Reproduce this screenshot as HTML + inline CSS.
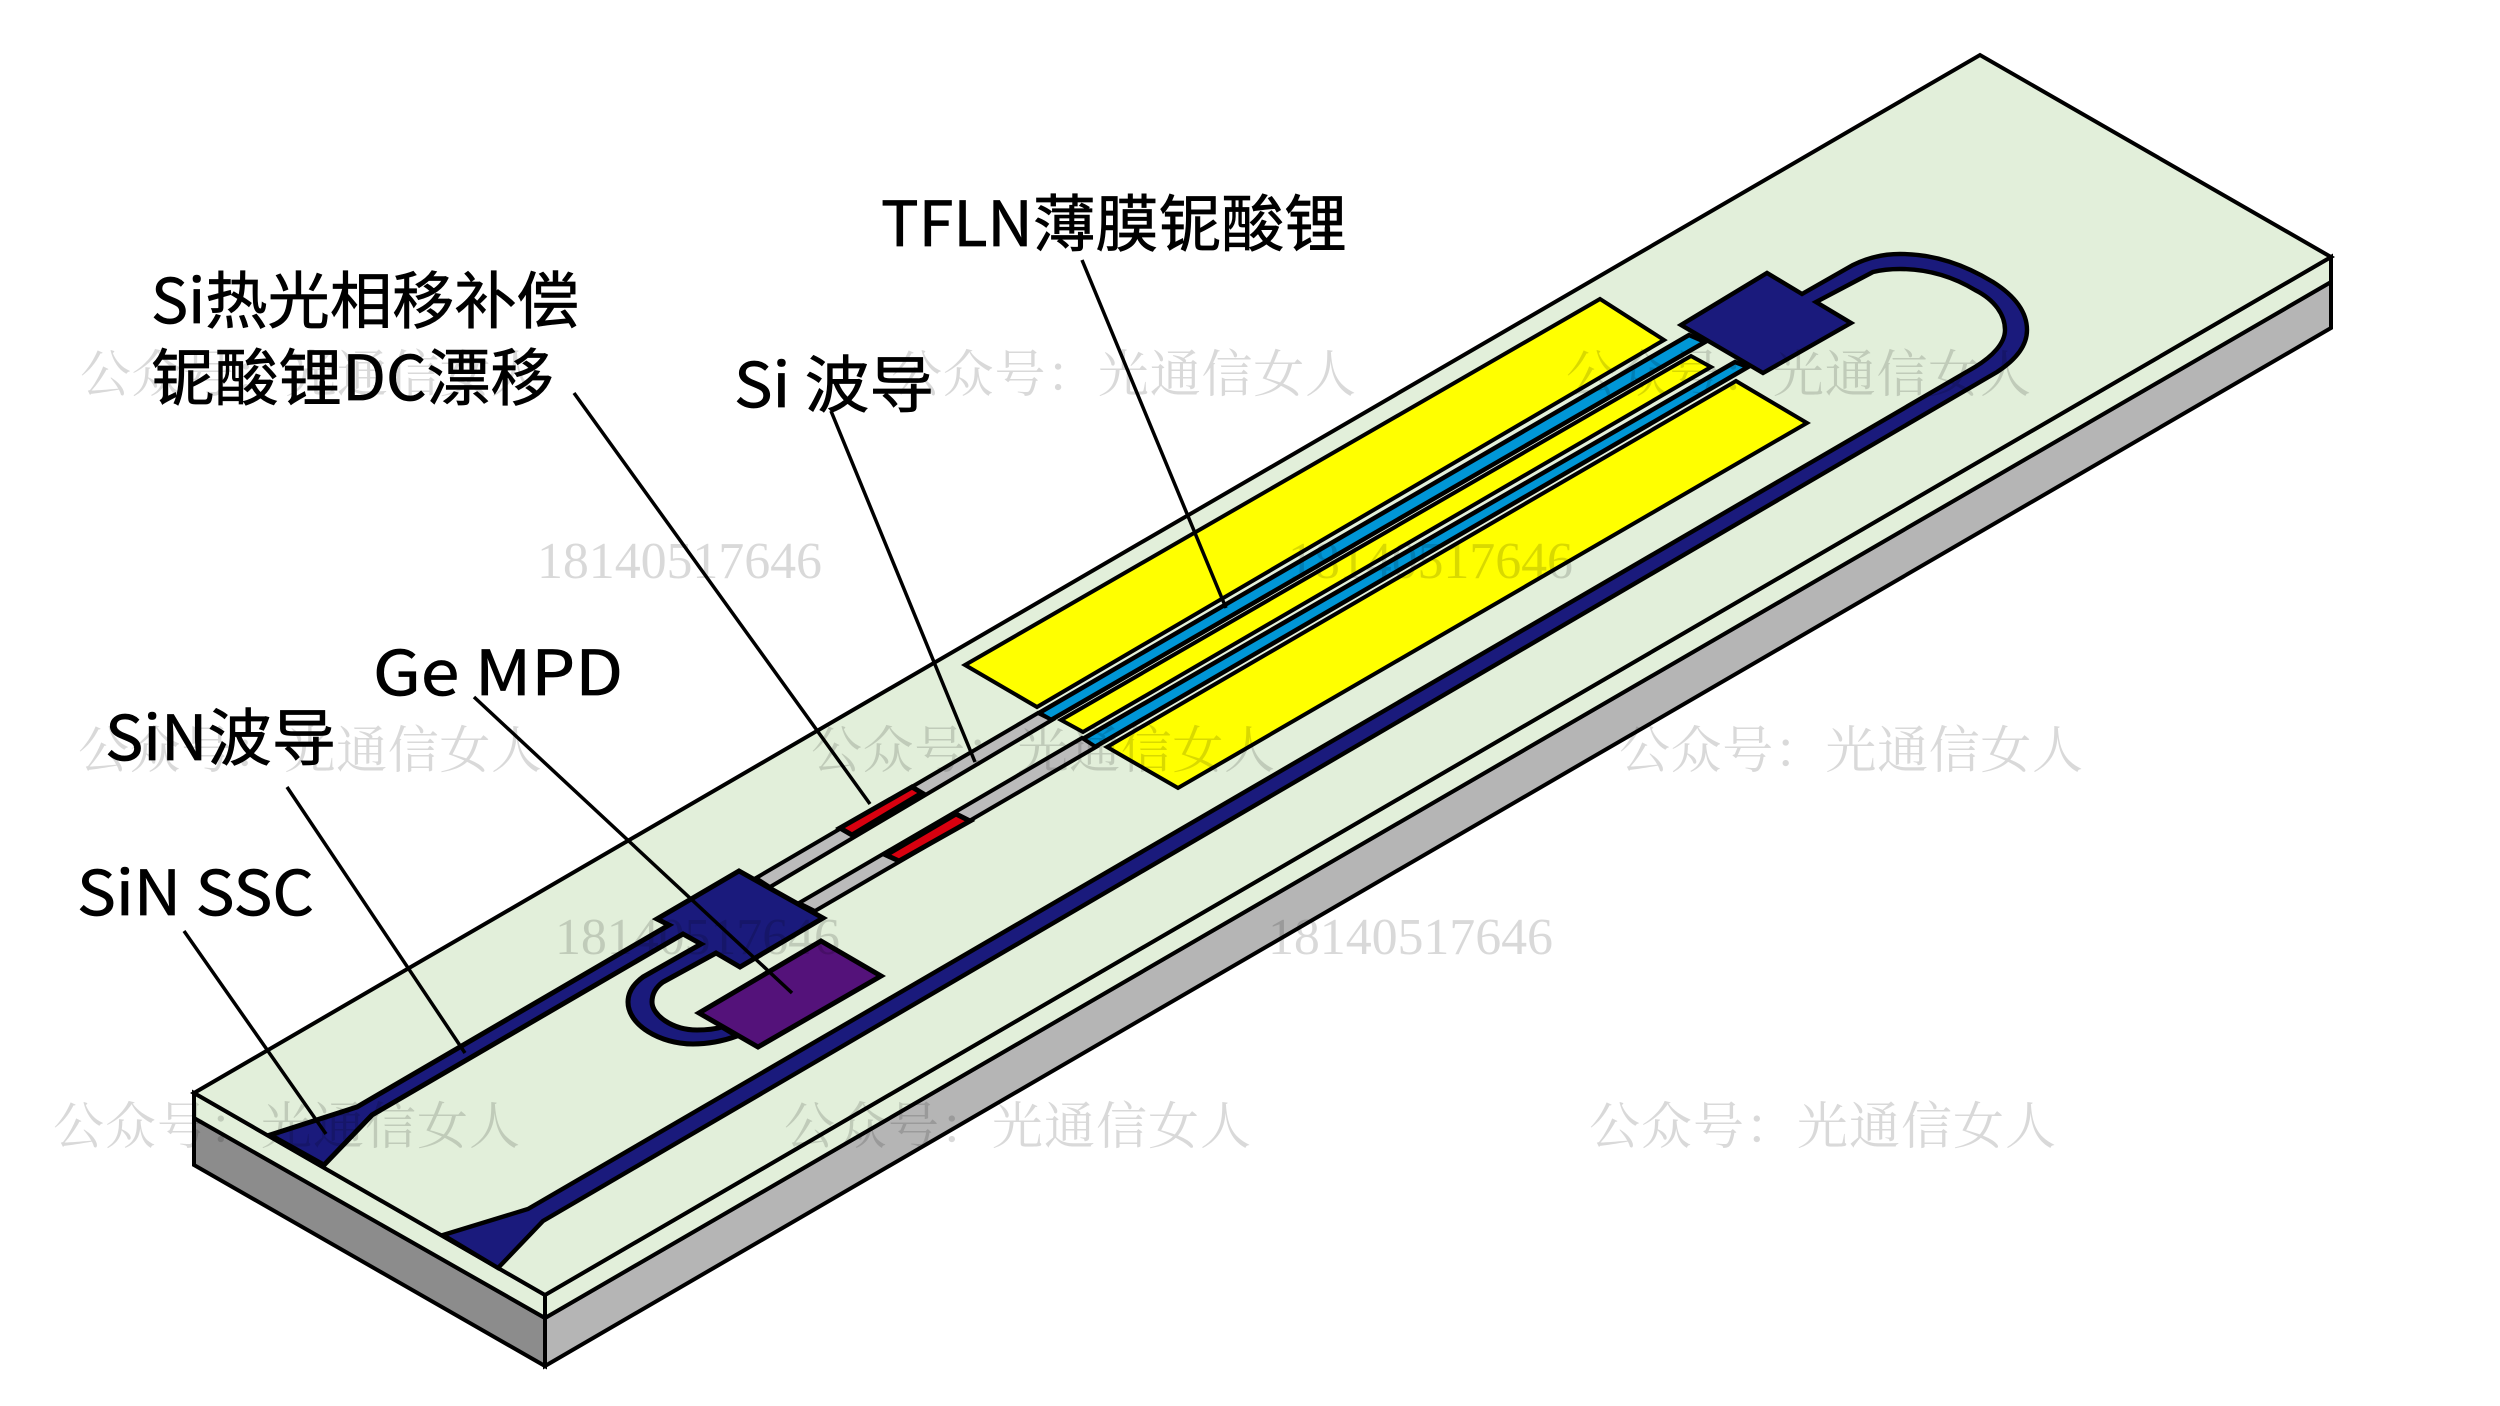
<!DOCTYPE html>
<html><head><meta charset="utf-8"><style>
html,body{margin:0;padding:0;background:#fff}
svg{display:block}
.l{font-family:"Noto Sans CJK SC","Liberation Sans",sans-serif;font-size:62px;fill:#000;stroke:#000;stroke-width:.7}
.w{font-family:"Noto Serif CJK SC","Liberation Serif",serif;font-size:51px;fill:#000;fill-opacity:.15}
.n{font-family:"Liberation Serif",serif;font-size:52px;fill:#000;fill-opacity:.15}
</style></head><body>
<svg width="2500" height="1406" viewBox="0 0 2500 1406" xmlns="http://www.w3.org/2000/svg">
<rect width="2500" height="1406" fill="#fff"/>
<g stroke="#000" stroke-linejoin="miter" stroke-miterlimit="3">
<!-- chip -->
<polygon points="194,1118 545,1318 545,1366 194,1165" fill="#8c8c8c" stroke-width="4"/>
<polygon points="545,1318 2331,282 2331,328 545,1366" fill="#b5b5b5" stroke-width="4"/>
<polygon points="194,1093 545,1295 545,1318 194,1118" fill="#e2efda" stroke-width="4"/>
<polygon points="545,1295 2331,257 2331,282 545,1318" fill="#e2efda" stroke-width="4"/>
<polygon points="194,1093 1980,55 2331,257 545,1295" fill="#e2efda" stroke-width="4"/>
<!-- long waveguide with bend, SSC2 -->
<path d="M443,1235 L528,1209 L1975,367 C1993,356 2005,343 2005,330 C2005,315 1995,300 1975,290 C1950,275 1925,269 1900,269 Q1885,269 1873,272 L1816,302 L1851,323 L1763,373 L1681,325 L1767,273 L1802,294 L1853,265 Q1875,254 1900,254 C1935,254 1965,265 1993,282 C2015,296 2027,312 2027,330 C2027,345 2017,359 1997,372 L543,1221 L498,1268 Z" fill="#1a1a7c" stroke-width="4.4"/>
<!-- yellow electrodes -->
<polygon points="965,665 1600,299 1664,340 1037,707" fill="#ff0" stroke-width="4"/>
<polygon points="1061,720 1691,356 1711,367 1083,732" fill="#ff0" stroke-width="4"/>
<polygon points="1107,747 1736,381 1807,423 1178,788" fill="#ff0" stroke-width="4"/>
<!-- blue -->
<polygon points="1039,713 1689,335 1705,342 1051,720" fill="#0096d6" stroke-width="4.5"/>
<polygon points="1081,740 1735,362 1748,367 1095,747" fill="#0096d6" stroke-width="4.5"/>
<!-- gray Si -->
<polygon points="756,878 1038,713 1052,720 770,887" fill="#bbb" stroke-width="4"/>
<polygon points="799,903 1082,738 1096,747 815,911" fill="#bbb" stroke-width="4"/>
<!-- red -->
<polygon points="840,828 912,787 922,793 852,835" fill="#d8000f" stroke-width="5"/>
<polygon points="886,855 956,814 970,821 899,861" fill="#d8000f" stroke-width="5"/>
<!-- left box, SiN, SSC1, U-bend -->
<path d="M270,1135 L357,1107 L669,925 L657,919 L739,871 L823,918 L740,967 L716,953 L663,982 Q652,990 652,1002 C652,1015 672,1030 697,1030 Q712,1030 722,1027 L737,1036 Q715,1044 693,1044 C660,1044 628,1025 628,1002 Q628,988 643,977 L701,944 L683,934 L372,1115 L324,1165 Z" fill="#1a1a7c" stroke-width="5"/>
<!-- purple -->
<polygon points="821,941 881,976 758,1047 699,1013" fill="#54127a" stroke-width="5"/>
</g>
<g stroke="#000" stroke-width="3.5" fill="none">
<line x1="1082" y1="260" x2="1226" y2="608"/>
<line x1="831" y1="411" x2="975" y2="762"/>
<line x1="574" y1="393" x2="870" y2="804"/>
<line x1="474" y1="697" x2="792" y2="993"/>
<line x1="287" y1="787" x2="465" y2="1053"/>
<line x1="184" y1="931" x2="326" y2="1134"/>
</g>
<g>
<text class="l" x="881" y="246" textLength="466" lengthAdjust="spacingAndGlyphs">TFLN薄膜铌酸锂</text>
<text class="l" x="151" y="323" textLength="428" lengthAdjust="spacingAndGlyphs">Si热光相移补偿</text>
<text class="l" x="151" y="400" textLength="403" lengthAdjust="spacingAndGlyphs">铌酸锂DC漂移</text>
<text class="l" x="734" y="407" textLength="200" lengthAdjust="spacingAndGlyphs">Si 波导</text>
<text class="l" x="373" y="695" textLength="250" lengthAdjust="spacingAndGlyphs">Ge MPD</text>
<text class="l" x="105" y="760" textLength="231" lengthAdjust="spacingAndGlyphs">SiN波导</text>
<text class="l" x="77" y="915" textLength="237" lengthAdjust="spacingAndGlyphs">SiN SSC</text>
</g>
<g>
<text class="w" x="80" y="392" textLength="462">公众号：光通信女人</text>
<text class="w" x="891" y="392" textLength="465">公众号：光通信女人</text>
<text class="w" x="1566" y="392" textLength="465">公众号：光通信女人</text>
<text class="w" x="78" y="768" textLength="464">公众号：光通信女人</text>
<text class="w" x="811" y="768" textLength="464">公众号：光通信女人</text>
<text class="w" x="1619" y="768" textLength="464">公众号：光通信女人</text>
<text class="w" x="53" y="1144" textLength="467">公众号：光通信女人</text>
<text class="w" x="784" y="1144" textLength="467">公众号：光通信女人</text>
<text class="w" x="1589" y="1144" textLength="467">公众号：光通信女人</text>
<text class="n" x="537" y="578" textLength="285">18140517646</text>
<text class="n" x="1288" y="578" textLength="285">18140517646</text>
<text class="n" x="555" y="954" textLength="285">18140517646</text>
<text class="n" x="1268" y="954" textLength="285">18140517646</text>
</g>
</svg>
</body></html>
